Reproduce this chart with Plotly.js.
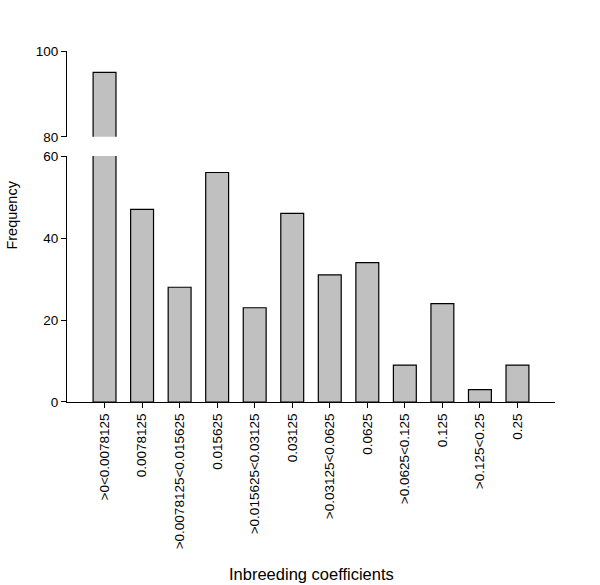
<!DOCTYPE html>
<html>
<head>
<meta charset="utf-8">
<script src="https://cdn.plot.ly/plotly-3.0.1.min.js"></script>
<style>html,body{margin:0;padding:0;background:#fff;}#chart{width:600px;height:585px;}</style>
</head>
<body>
<div id="chart"></div>
<script>
var categories = [">0<0.0078125", "0.0078125", ">0.0078125<0.015625", "0.015625", ">0.015625<0.03125", "0.03125", ">0.03125<0.0625", "0.0625", ">0.0625<0.125", "0.125", ">0.125<0.25", "0.25"];
var frequency = [95, 47, 28, 56, 23, 46, 31, 34, 9, 24, 3, 9];
var lowerTicks = [0, 20, 40, 60];
var upperTicks = [80, 100];

var barStyle = {color: "#c0c0c0", line: {color: "#000", width: 1.2}};
var fam = "Liberation Sans, Arial, sans-serif";
var font = {family: fam, size: 13.5, color: "#000"};
var titleFont = {family: fam, size: 16.5, color: "#000"};
var yTitleFont = {family: "Liberation Sans Narrow, Liberation Sans, Arial, sans-serif", size: 14.5, color: "#000"};

var traces = [
  {type: "bar", x: categories, y: frequency, xaxis: "x", yaxis: "y", marker: barStyle, width: 0.61, hoverinfo: "none"},
  {type: "bar", x: categories, y: frequency, xaxis: "x2", yaxis: "y2", marker: barStyle, width: 0.61, hoverinfo: "none"}
];

var layout = {
  width: 600, height: 585,
  margin: {l: 67, r: 45, t: 51, b: 183, pad: 0},
  paper_bgcolor: "#fff", plot_bgcolor: "rgba(0,0,0,0)",
  showlegend: false,
  font: font,
  xaxis: {
    domain: [0, 1], anchor: "y", type: "category", range: [-1, 12],
    showline: true, linecolor: "#000", linewidth: 1,
    ticks: "outside", ticklen: 5, tickcolor: "#000", tickwidth: 1,
    tickangle: -90, tickfont: font, showgrid: false, zeroline: false
  },
  xaxis2: {
    domain: [0, 1], anchor: "y2", type: "category", range: [-1, 12],
    showline: false, showticklabels: false, ticks: "", showgrid: false, zeroline: false, matches: "x"
  },
  yaxis: {
    domain: [0, 0.7006], anchor: "x", range: [0, 60],
    tickvals: lowerTicks, ticktext: lowerTicks.map(String),
    showline: true, linecolor: "#000", linewidth: 1,
    ticks: "outside", ticklen: 5, tickcolor: "#000", tickwidth: 1,
    tickfont: font, showgrid: false, zeroline: false
  },
  yaxis2: {
    domain: [0.7556, 1], anchor: "x2", range: [80, 100],
    tickvals: upperTicks, ticktext: upperTicks.map(String),
    showline: true, linecolor: "#000", linewidth: 1,
    ticks: "outside", ticklen: 5, tickcolor: "#000", tickwidth: 1,
    tickfont: font, showgrid: false, zeroline: false
  },
  annotations: [
    {text: "Frequency", xref: "paper", yref: "paper", x: -0.1127, y: 0.531, xanchor: "center", yanchor: "middle",
     textangle: -90, showarrow: false, font: yTitleFont},
    {text: "Inbreeding coefficients", xref: "paper", yref: "paper", x: 0.5, y: -0.491, xanchor: "center", yanchor: "middle",
     showarrow: false, font: titleFont}
  ]
};

Plotly.newPlot("chart", traces, layout, {staticPlot: true, displayModeBar: false});
</script>
</body>
</html>
